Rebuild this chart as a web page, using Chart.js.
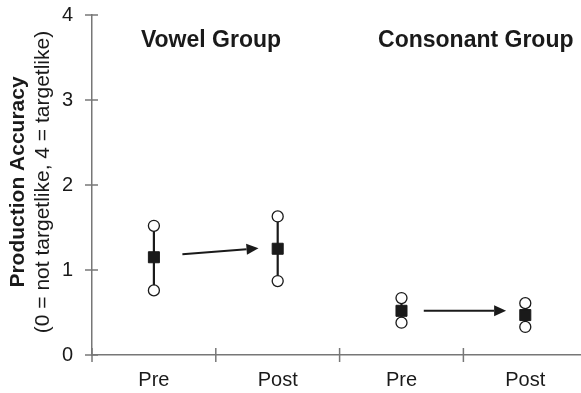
<!DOCTYPE html>
<html>
<head>
<meta charset="utf-8">
<script src="https://cdn.jsdelivr.net/npm/chart.js@4.4.0/dist/chart.umd.min.js"></script>
<style>
  html, body { margin: 0; padding: 0; background: #fff; overflow: hidden; }
</style>
</head>
<body>
<canvas id="chart" width="581" height="393"></canvas>
<script>
// --- Datos ---
const categories = ['Pre', 'Post', 'Pre', 'Post'];
const groups = ['Vowel Group', 'Consonant Group'];
const meanValues = [1.15, 1.25, 0.52, 0.47];
const highValues = [1.52, 1.63, 0.67, 0.61];
const lowValues = [0.76, 0.87, 0.38, 0.33];
const yTicks = [0, 1, 2, 3, 4];
const yTitle = 'Production Accuracy';
const ySubtitle = '(0 = not targetlike, 4 = targetlike)';

// flechas entre pre y post (en unidades de los ejes)
const arrowStartX = [0.73, 2.68];
const arrowStartY = [1.185, 0.52];
const arrowEndX = [1.345, 3.345];
const arrowEndY = [1.255, 0.52];

const axisColor = '#777';
const inkColor = '#1a1a1a';
const fontFamily = '"Liberation Sans", Arial, Helvetica, sans-serif';

// posición de cada categoría: centro de su celda
const catX = categories.map((c, i) => i + 0.5);
const toPoints = values => values.map((v, i) => ({ x: catX[i], y: v }));

const overlay = {
    id: 'overlay',
    beforeDatasetsDraw(chart) {
        const { ctx, scales: { x, y } } = chart;
        ctx.save();
        ctx.strokeStyle = inkColor;
        ctx.lineWidth = 2.2;
        catX.forEach((cx, i) => {
            ctx.beginPath();
            ctx.moveTo(x.getPixelForValue(cx), y.getPixelForValue(lowValues[i]));
            ctx.lineTo(x.getPixelForValue(cx), y.getPixelForValue(highValues[i]));
            ctx.stroke();
        });
        ctx.restore();
    },
    afterDatasetsDraw(chart) {
        const { ctx, scales: { x, y } } = chart;
        ctx.save();
        ctx.strokeStyle = inkColor;
        ctx.fillStyle = inkColor;
        ctx.lineWidth = 2;
        arrowStartX.forEach((sx, i) => {
            const x0 = x.getPixelForValue(sx), y0 = y.getPixelForValue(arrowStartY[i]);
            const x1 = x.getPixelForValue(arrowEndX[i]), y1 = y.getPixelForValue(arrowEndY[i]);
            const ang = Math.atan2(y1 - y0, x1 - x0);
            const headLen = 12, headHalf = 5.5;
            const bx = x1 - headLen * Math.cos(ang), by = y1 - headLen * Math.sin(ang);
            ctx.beginPath();
            ctx.moveTo(x0, y0);
            ctx.lineTo(bx, by);
            ctx.stroke();
            ctx.beginPath();
            ctx.moveTo(x1, y1);
            ctx.lineTo(bx + headHalf * Math.sin(ang), by - headHalf * Math.cos(ang));
            ctx.lineTo(bx - headHalf * Math.sin(ang), by + headHalf * Math.cos(ang));
            ctx.closePath();
            ctx.fill();
        });
        ctx.restore();
    },
    afterDraw(chart) {
        const { ctx, chartArea, scales: { x, y } } = chart;
        ctx.save();
        // marcas de los ejes, cruzando la línea
        ctx.strokeStyle = axisColor;
        ctx.lineWidth = 1.5;
        yTicks.forEach(v => {
            const py = y.getPixelForValue(v);
            ctx.beginPath();
            ctx.moveTo(chartArea.left - 7, py);
            ctx.lineTo(chartArea.left + 6, py);
            ctx.stroke();
        });
        categories.forEach((c, i) => {
            const px = x.getPixelForValue(i);
            ctx.beginPath();
            ctx.moveTo(px, chartArea.bottom - 7);
            ctx.lineTo(px, chartArea.bottom + 7);
            ctx.stroke();
        });

        // títulos de grupo
        ctx.fillStyle = inkColor;
        ctx.textAlign = 'center';
        ctx.textBaseline = 'alphabetic';
        ctx.font = 'bold 23px ' + fontFamily;
        ctx.fillText(groups[0], x.getPixelForValue(0.961), 46.5);
        ctx.fillText(groups[1], x.getPixelForValue(3.1), 46.5);

        // título del eje y en dos líneas
        ctx.font = 'bold 21px ' + fontFamily;
        ctx.translate(24, 182);
        ctx.rotate(-Math.PI / 2);
        ctx.fillText(yTitle, 0, 0);
        ctx.font = '21px ' + fontFamily;
        ctx.fillText(ySubtitle, 0, 25);
        ctx.restore();
    }
};

new Chart(document.getElementById('chart'), {
    type: 'scatter',
    data: {
        datasets: [{
            label: 'Mean',
            data: toPoints(meanValues),
            pointStyle: 'rect',
            radius: 7.8,
            backgroundColor: inkColor,
            borderColor: inkColor,
            borderWidth: 1
        }, {
            label: 'High',
            data: toPoints(highValues),
            pointStyle: 'circle',
            radius: 5.5,
            backgroundColor: '#fff',
            borderColor: inkColor,
            borderWidth: 1.3
        }, {
            label: 'Low',
            data: toPoints(lowValues),
            pointStyle: 'circle',
            radius: 5.5,
            backgroundColor: '#fff',
            borderColor: inkColor,
            borderWidth: 1.3
        }]
    },
    options: {
        responsive: false,
        animation: false,
        layout: { autoPadding: false, padding: { top: 15, right: 0, left: 0, bottom: 0 } },
        plugins: { legend: { display: false }, tooltip: { enabled: false } },
        scales: {
            x: {
                type: 'linear',
                min: 0,
                max: 3.95,
                afterBuildTicks: scale => { scale.ticks = catX.map(v => ({ value: v })); },
                afterFit: scale => {
                    scale.height = 38;
                    scale.paddingLeft = 0;
                    scale.paddingRight = 0;
                },
                ticks: {
                    autoSkip: false,
                    maxRotation: 0,
                    padding: 13,
                    color: inkColor,
                    font: { family: fontFamily, size: 20 },
                    callback: (value) => categories[Math.floor(value)]
                },
                grid: { display: false, drawTicks: false },
                border: { display: true, color: axisColor, width: 1.5 }
            },
            y: {
                min: 0,
                max: 4,
                afterBuildTicks: scale => { scale.ticks = yTicks.map(v => ({ value: v })); },
                afterFit: scale => {
                    scale.width = 92;
                    scale.paddingTop = 0;
                    scale.paddingBottom = 0;
                },
                ticks: {
                    padding: 19,
                    color: inkColor,
                    font: { family: fontFamily, size: 20 }
                },
                grid: { display: false, drawTicks: false },
                border: { display: true, color: axisColor, width: 1.5 }
            }
        }
    },
    plugins: [overlay]
});
</script>
</body>
</html>
